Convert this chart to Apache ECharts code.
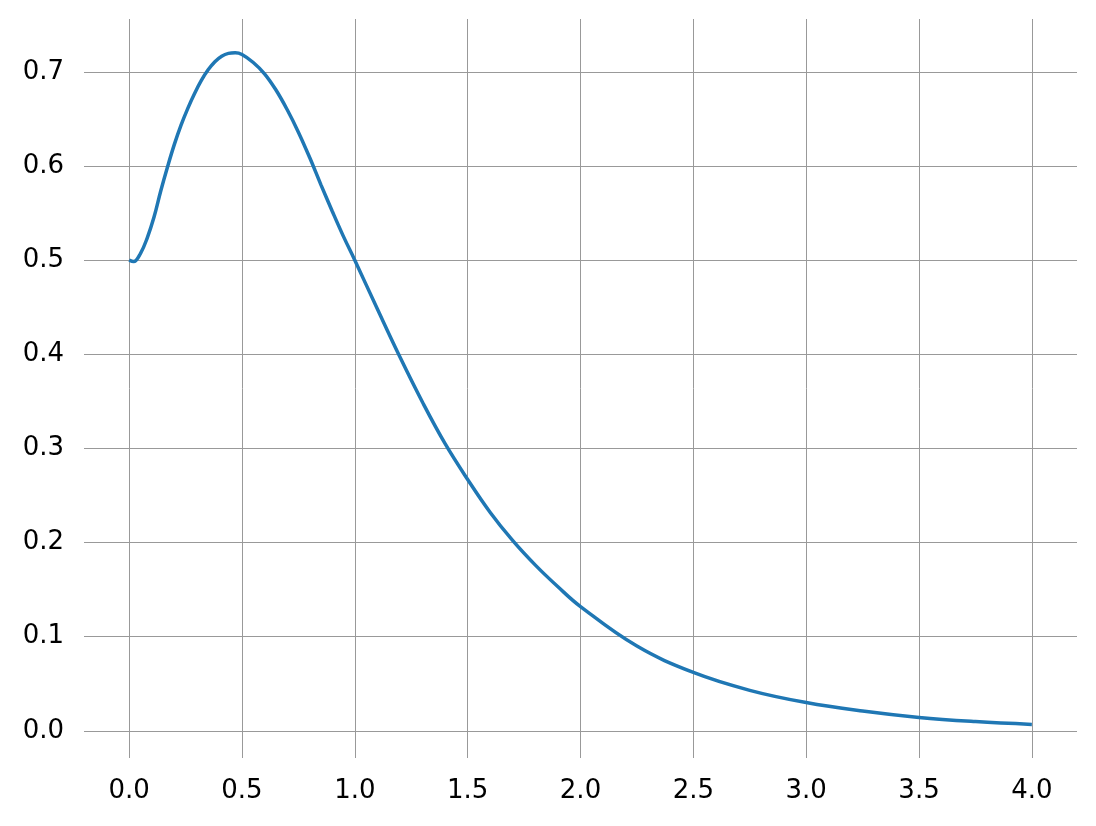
<!DOCTYPE html>
<html>
<head>
<meta charset="utf-8">
<script src="https://cdn.jsdelivr.net/npm/echarts@6/dist/echarts.min.js"></script>
<style>
  html, body { margin: 0; padding: 0; background: #fff; }
  #chart { width: 1096px; height: 826px; }
</style>
</head>
<body>
<div id="chart"></div>
<script>
// values
const xValues = [0, 0.02, 0.05, 0.08, 0.11, 0.14, 0.17, 0.2, 0.23, 0.26, 0.29, 0.32, 0.35, 0.38, 0.41, 0.44, 0.47,
  0.5, 0.55, 0.6, 0.65, 0.7, 0.75, 0.8, 0.85, 0.9, 0.95, 1.0, 1.1, 1.2, 1.3, 1.4, 1.5, 1.6, 1.7, 1.8, 1.9,
  2.0, 2.25, 2.5, 2.75, 3.0, 3.25, 3.5, 3.75, 4.0]
const yValues = [0.500, 0.4985, 0.507, 0.5235, 0.5455, 0.5735, 0.599, 0.6227, 0.6434, 0.6613, 0.6771, 0.6909, 0.7022, 0.7108, 0.7167, 0.7197, 0.7203,
  0.7185, 0.710, 0.698, 0.681, 0.660, 0.636, 0.609, 0.580, 0.552, 0.525, 0.500, 0.448, 0.397, 0.349, 0.305, 0.267, 0.232, 0.202, 0.176, 0.153,
  0.132, 0.090, 0.062, 0.043, 0.030, 0.021, 0.0142, 0.0098, 0.0068]

const xRange = [-0.2, 4.2]
const yRange = [-0.0289, 0.7562]
const xStep = 0.5
const yStep = 0.1

const myChart = echarts.init(document.getElementById('chart'))

const labelStyle = {
  color: '#000',
  fontSize: 26,
  fontFamily: 'DejaVu Sans'
}
const gridLine = {
  show: true,
  showMinLine: false,
  showMaxLine: false,
  lineStyle: { color: '#999', width: 1 }
}

myChart.setOption({
  animation: false,
  backgroundColor: '#fff',
  grid: {
    left: 84,
    right: 19,
    top: 19,
    bottom: 68
  },
  xAxis: {
    type: 'value',
    min: xRange[0],
    max: xRange[1],
    minInterval: xStep,
    maxInterval: xStep,
    axisLine: { show: false },
    axisTick: { show: false },
    axisLabel: {
      ...labelStyle,
      margin: 20,
      showMinLabel: false,
      showMaxLabel: false,
      formatter: v => v.toFixed(1)
    },
    splitLine: gridLine
  },
  yAxis: {
    type: 'value',
    min: yRange[0],
    max: yRange[1],
    minInterval: yStep,
    maxInterval: yStep,
    axisLine: { show: false },
    axisTick: { show: false },
    axisLabel: {
      ...labelStyle,
      margin: 20,
      showMinLabel: false,
      showMaxLabel: false,
      formatter: v => v.toFixed(1)
    },
    splitLine: gridLine
  },
  series: [
    {
      type: 'line',
      data: xValues.map((x, i) => [x, yValues[i]]),
      showSymbol: false,
      smooth: 0.4,
      lineStyle: { color: '#1f77b4', width: 3.5 }
    }
  ]
})
</script>
</body>
</html>
